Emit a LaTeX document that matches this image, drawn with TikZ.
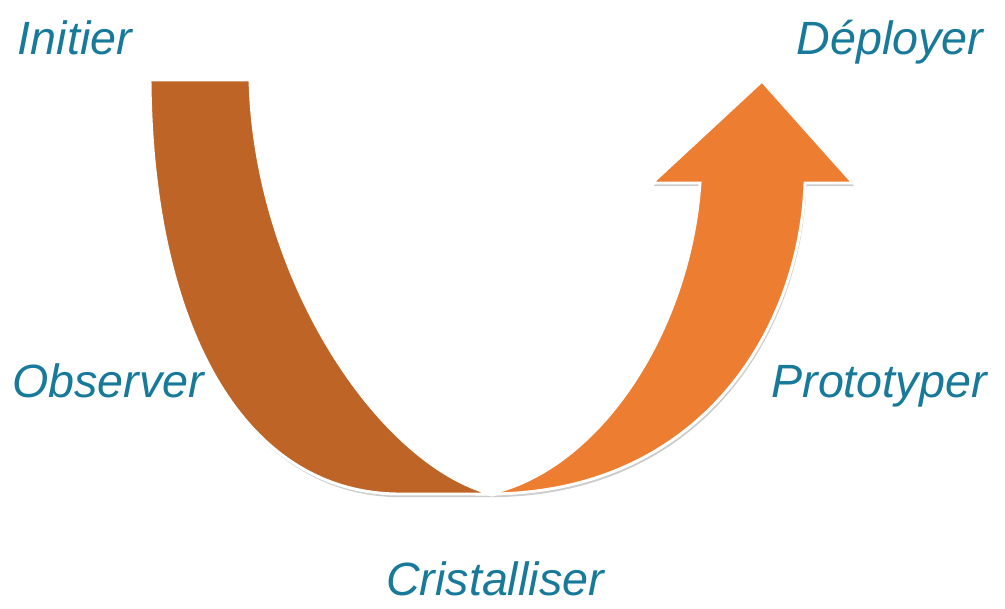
\documentclass[tikz,border=0pt]{standalone}
\usepackage{fontspec}
\setmainfont{Liberation Sans}
\usetikzlibrary{shadows}

\definecolor{stepteal}{RGB}{24,122,154}
\definecolor{bandleft}{RGB}{190,100,38}
\definecolor{bandright}{RGB}{237,125,49}

\tikzset{
	phase/.style={text=stepteal,font=\fontsize{35}{40}\selectfont\itshape,inner sep=0pt,anchor=base},
	band/.style={draw=white,line width=2.2pt,drop shadow={opacity=0.4,shadow xshift=1pt,shadow yshift=-2.4pt}},
}

\begin{document}
	\begin{tikzpicture}[x=0.75pt,y=-0.75pt]
		\useasboundingbox (0,0) rectangle (1005,608);
		\path[band,fill=bandleft] (150,80) -- (250,80) .. controls (255,280) and (380,465) .. (492,494)
			-- (400,494) .. controls (245,494) and (152,330) .. (150,80) -- cycle;
		\path[band,fill=bandright] (488,494) .. controls (600,470) and (690,330) .. (700,183) -- (652,183) -- (762,81)
			-- (853,183) -- (805,183) .. controls (800,330) and (700,494) .. (488,494) -- cycle;
		\node[phase] (initier) at (75,54) {Initier};
		\node[phase] (deployer) at (890,54) {Déployer};
		\node[phase] (observer) at (108,397) {Observer};
		\node[phase] (prototyper) at (879,397) {Prototyper};
		\node[phase] (cristalliser) at (495,595) {Cristalliser};
	\end{tikzpicture}
\end{document}
